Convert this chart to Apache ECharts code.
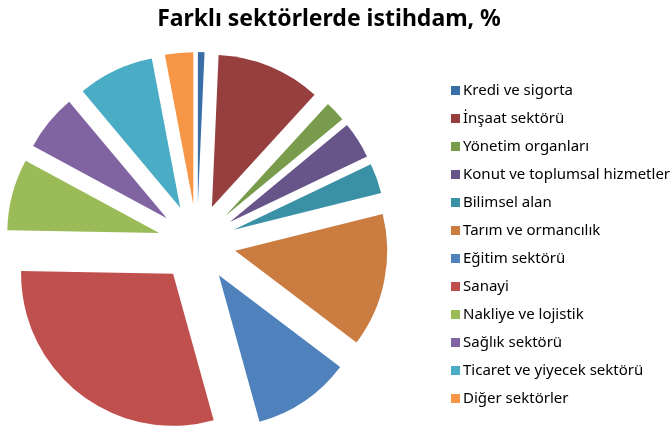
<!DOCTYPE html>
<html>
<head>
<meta charset="utf-8">
<script src="https://cdn.jsdelivr.net/npm/echarts@6/dist/echarts.min.js"></script>
<style>
  html, body { margin: 0; padding: 0; background: #fff; }
  #chart { width: 672px; height: 428px; }
</style>
</head>
<body>
<div id="chart"></div>
<script>
// sector names (legend order = slice order, clockwise from 12 o'clock)
const sectors = [
  'Kredi ve sigorta',
  'İnşaat sektörü',
  'Yönetim organları',
  'Konut ve toplumsal hizmetler',
  'Bilimsel alan',
  'Tarım ve ormancılık',
  'Eğitim sektörü',
  'Sanayi',
  'Nakliye ve lojistik',
  'Sağlık sektörü',
  'Ticaret ve yiyecek sektörü',
  'Diğer sektörler'
];
// employment share, %
const shares = [0.7, 11.1, 2.2, 3.9, 3.2, 14.2, 10.4, 29.6, 7.6, 6.0, 8.1, 3.0];
const colors = [
  '#3a6ea8', '#973f3e', '#799b4c', '#675489', '#3a91a5', '#cb7c40',
  '#4f81bd', '#c0504d', '#9bbb59', '#8064a2', '#4bacc6', '#f79646'
];

const chart = echarts.init(document.getElementById('chart'));

const data = sectors.map((name, i) => ({
  name,
  value: shares[i],
  selected: true,
  itemStyle: { color: colors[i] }
}));

chart.setOption({
  animation: false,
  backgroundColor: '#fff',
  color: colors,
  title: {
    text: 'Farklı sektörlerde istihdam, %',
    left: 324,
    textAlign: 'center',
    top: 3,
    textStyle: { fontFamily: 'Noto Sans', fontSize: 23, fontWeight: 'bold', color: '#000' }
  },
  legend: {
    orient: 'vertical',
    left: 446,
    top: 78,
    itemWidth: 9,
    itemHeight: 9,
    itemGap: 13,
    icon: 'rect',
    selectedMode: false,
    textStyle: { fontFamily: 'Noto Sans', fontSize: 15, lineHeight: 14, color: '#000', padding: [0, 0, 0, -2] },
    data: sectors
  },
  series: [
    {
      type: 'pie',
      center: [197, 243],
      radius: 152,
      startAngle: 90,
      clockwise: true,
      selectedMode: 'multiple',
      selectedOffset: 39,
      label: { show: false },
      labelLine: { show: false },
      emphasis: { disabled: true },
      select: { itemStyle: { borderWidth: 0 } },
      data
    }
  ]
});
</script>
</body>
</html>
